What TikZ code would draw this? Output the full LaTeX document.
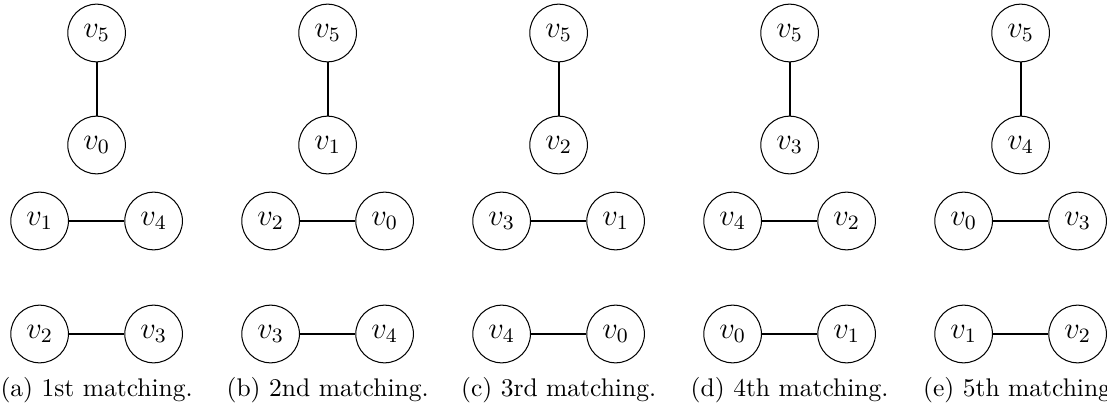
\documentclass[tikz,border=0pt]{standalone}
\usepackage{tikz}
\begin{document}
\begin{tikzpicture}[x=0.392pt,y=-0.392pt,
  vertex/.style={draw,circle,line width=0.4pt,minimum size=22.6pt,inner sep=0pt,
    font=\fontsize{11.5}{14}\selectfont},
  match/.style={line width=0.8pt},
  subcap/.style={inner sep=0pt,anchor=base}]
\useasboundingbox (0,0) rectangle (1107,414);
\begin{scope}
\clip (0,0) rectangle (1107,414);
\foreach \i/\ord/\sl in {0/1st/a,1/2nd/b,2/3rd/c,3/4th/d,4/5th/e}{
  \pgfmathtruncatemacro{\ta}{\i}
  \pgfmathtruncatemacro{\la}{mod(\i+1,5)}
  \pgfmathtruncatemacro{\ra}{mod(\i+4,5)}
  \pgfmathtruncatemacro{\lb}{mod(\i+2,5)}
  \pgfmathtruncatemacro{\rb}{mod(\i+3,5)}
  \pgfmathsetmacro{\xc}{96.6+231*\i}
  \node[vertex] (top\i) at (\xc,33) {$v_5$};
  \node[vertex] (mid\i) at (\xc,145) {$v_{\ta}$};
  \node[vertex] (la\i) at (\xc-57,221) {$v_{\la}$};
  \node[vertex] (ra\i) at (\xc+57,221) {$v_{\ra}$};
  \node[vertex] (lb\i) at (\xc-57,334) {$v_{\lb}$};
  \node[vertex] (rb\i) at (\xc+57,334) {$v_{\rb}$};
  \draw[match] (top\i) -- (mid\i);
  \draw[match] (la\i) -- (ra\i);
  \draw[match] (lb\i) -- (rb\i);
  \node[subcap] (cap\i) at (\xc,396) {(\sl) \ord{} matching.};
}
\end{scope}
\end{tikzpicture}
\end{document}
